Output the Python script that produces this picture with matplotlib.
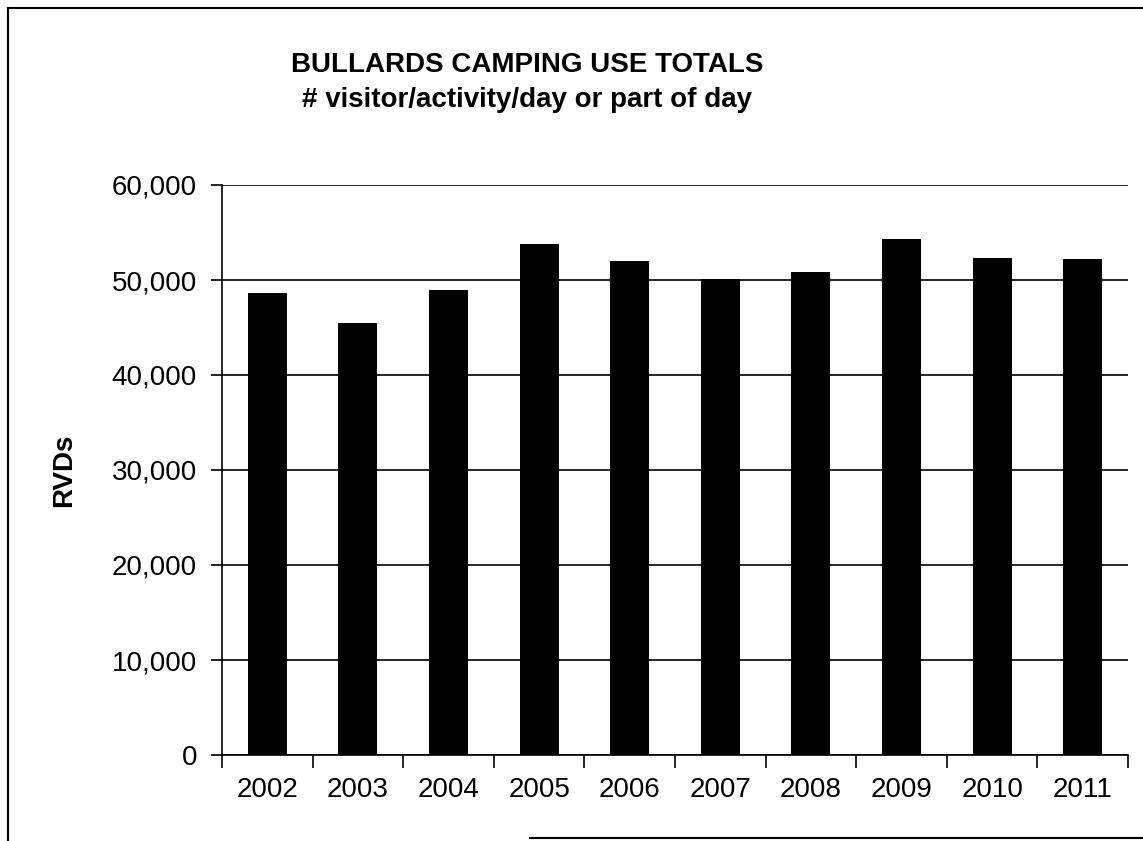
import matplotlib
matplotlib.use("Agg")
import matplotlib.pyplot as plt
from matplotlib.ticker import FuncFormatter, FixedLocator
from matplotlib.lines import Line2D

years = ["2002", "2003", "2004", "2005", "2006", "2007", "2008", "2009", "2010", "2011"]
rvds = [48650, 45450, 48900, 53800, 52000, 50100, 50800, 54300, 52300, 52200]
yticks = [0, 10000, 20000, 30000, 40000, 50000, 60000]

plt.rcParams['font.family'] = ['Liberation Sans', 'DejaVu Sans']

fig = plt.figure(figsize=(11.43, 8.41), dpi=100)
ax = fig.add_axes([222/1143, 1-755/841, (1128-222)/1143, (755-185)/841])

x = list(range(len(years)))
ax.bar(x, rvds, width=0.43, color='black', zorder=3)

ax.set_xlim(-0.5, len(years) - 0.5)
ax.set_ylim(0, 60000)
ax.set_yticks(yticks)
ax.yaxis.set_major_formatter(FuncFormatter(lambda v, p: f"{int(v):,}"))
ax.yaxis.grid(True, color='black', linewidth=1.2, zorder=1)

ax.set_xticks(x)
ax.set_xticklabels(years)
ax.tick_params(axis='x', which='major', length=0, labelsize=20, pad=16)
ax.xaxis.set_minor_locator(FixedLocator([i - 0.5 for i in range(len(years) + 1)]))
ax.tick_params(axis='x', which='minor', length=9, width=1.2, direction='out')
ax.tick_params(axis='y', length=8, width=1.2, labelsize=20, pad=10)

for s in ['top', 'right']:
    ax.spines[s].set_visible(False)
ax.spines['left'].set_linewidth(1.2)
ax.spines['bottom'].set_linewidth(1.2)

ax.set_ylabel("RVDs", fontsize=20, fontweight='bold', labelpad=25)

fig.text(527/1143, 1-65/841, "BULLARDS CAMPING USE TOTALS", ha='center', va='center',
         fontsize=20, fontweight='bold')
fig.text(527/1143, 1-100/841, "# visitor/activity/day or part of day", ha='center', va='center',
         fontsize=20, fontweight='bold')

# page frame
fig.add_artist(Line2D([8/1143, 8/1143], [0, 1-8/841], transform=fig.transFigure,
                      color='black', linewidth=1.5))
fig.add_artist(Line2D([8/1143, 1], [1-8/841, 1-8/841], transform=fig.transFigure,
                      color='black', linewidth=1.5))
fig.add_artist(Line2D([530/1143, 1], [1-838/841, 1-838/841], transform=fig.transFigure,
                      color='black', linewidth=1.5))

fig.savefig("out.png", dpi=100)
